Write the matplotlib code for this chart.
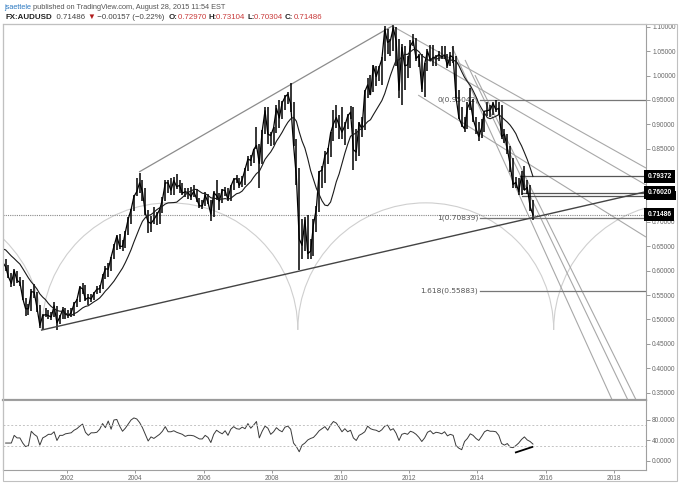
import matplotlib
matplotlib.use('Agg')
import matplotlib.pyplot as plt
from matplotlib.patches import Arc, Rectangle
import numpy as np
import pandas as pd

# monthly bars, Jan 1999 .. Aug 2015 (1999 only feeds the moving average)
high = [
    0.642, 0.640, 0.640, 0.662, 0.670, 0.670, 0.672, 0.652, 0.665, 0.658, 0.650, 0.662,
    0.671, 0.650, 0.623, 0.612, 0.595, 0.604, 0.600, 0.588, 0.580, 0.545, 0.531, 0.562,
    0.572, 0.557, 0.530, 0.512, 0.524, 0.520, 0.515, 0.535, 0.528, 0.510, 0.525, 0.524,
    0.520, 0.523, 0.535, 0.543, 0.569, 0.575, 0.570, 0.552, 0.552, 0.557, 0.568, 0.570,
    0.593, 0.610, 0.615, 0.629, 0.655, 0.674, 0.675, 0.662, 0.682, 0.710, 0.727, 0.755,
    0.790, 0.801, 0.785, 0.770, 0.725, 0.712, 0.730, 0.720, 0.728, 0.752, 0.785, 0.785,
    0.790, 0.792, 0.798, 0.785, 0.780, 0.770, 0.770, 0.772, 0.775, 0.768, 0.750, 0.745,
    0.762, 0.757, 0.745, 0.763, 0.785, 0.760, 0.768, 0.771, 0.770, 0.775, 0.790, 0.797,
    0.790, 0.795, 0.810, 0.835, 0.838, 0.850, 0.895, 0.860, 0.888, 0.935, 0.936, 0.885,
    0.895, 0.940, 0.950, 0.947, 0.960, 0.966, 0.985, 0.945, 0.870, 0.810, 0.705, 0.710,
    0.715, 0.665, 0.705, 0.732, 0.805, 0.815, 0.845, 0.852, 0.885, 0.930, 0.940, 0.920,
    0.935, 0.905, 0.922, 0.938, 0.935, 0.890, 0.905, 0.915, 0.970, 0.995, 1.002, 1.022,
    1.020, 1.020, 1.038, 1.102, 1.095, 1.075, 1.108, 1.100, 1.075, 1.065, 1.060, 1.040,
    1.072, 1.085, 1.078, 1.045, 1.045, 1.025, 1.055, 1.063, 1.062, 1.042, 1.050, 1.060,
    1.060, 1.045, 1.048, 1.060, 1.040, 0.970, 0.935, 0.915, 0.945, 0.975, 0.952, 0.915,
    0.905, 0.910, 0.928, 0.945, 0.940, 0.945, 0.950, 0.945, 0.940, 0.890, 0.880, 0.855,
    0.832, 0.792, 0.790, 0.804, 0.815, 0.785, 0.775, 0.745,
]
low = [
    0.613, 0.622, 0.618, 0.628, 0.640, 0.646, 0.636, 0.628, 0.640, 0.633, 0.628, 0.630,
    0.635, 0.612, 0.600, 0.585, 0.566, 0.568, 0.575, 0.568, 0.540, 0.507, 0.510, 0.518,
    0.545, 0.515, 0.483, 0.478, 0.505, 0.500, 0.498, 0.505, 0.478, 0.490, 0.502, 0.500,
    0.503, 0.506, 0.507, 0.525, 0.535, 0.553, 0.537, 0.530, 0.536, 0.539, 0.553, 0.555,
    0.562, 0.583, 0.587, 0.600, 0.625, 0.643, 0.645, 0.640, 0.646, 0.673, 0.695, 0.723,
    0.753, 0.760, 0.742, 0.715, 0.678, 0.680, 0.695, 0.694, 0.696, 0.718, 0.742, 0.760,
    0.756, 0.756, 0.767, 0.760, 0.755, 0.752, 0.747, 0.745, 0.751, 0.741, 0.728, 0.727,
    0.733, 0.736, 0.702, 0.710, 0.745, 0.725, 0.738, 0.753, 0.743, 0.742, 0.765, 0.780,
    0.770, 0.772, 0.775, 0.805, 0.815, 0.820, 0.850, 0.770, 0.818, 0.880, 0.860, 0.855,
    0.858, 0.883, 0.893, 0.910, 0.930, 0.942, 0.925, 0.855, 0.775, 0.601, 0.625, 0.640,
    0.625, 0.625, 0.630, 0.680, 0.720, 0.770, 0.780, 0.818, 0.833, 0.865, 0.892, 0.870,
    0.870, 0.858, 0.890, 0.912, 0.806, 0.825, 0.835, 0.875, 0.888, 0.955, 0.960, 0.966,
    0.978, 0.988, 0.980, 1.030, 1.045, 1.040, 1.050, 1.020, 0.955, 0.940, 0.970, 0.995,
    1.015, 1.060, 1.030, 1.018, 0.966, 0.957, 1.010, 1.030, 1.020, 1.020, 1.030, 1.035,
    1.035, 1.015, 1.020, 1.025, 0.955, 0.910, 0.895, 0.885, 0.890, 0.930, 0.905, 0.880,
    0.866, 0.872, 0.885, 0.918, 0.915, 0.920, 0.925, 0.920, 0.870, 0.862, 0.840, 0.803,
    0.770, 0.770, 0.756, 0.756, 0.765, 0.758, 0.723, 0.703,
]
close = [
    0.627, 0.628, 0.633, 0.660, 0.650, 0.663, 0.650, 0.642, 0.653, 0.638, 0.637, 0.656,
    0.637, 0.617, 0.608, 0.587, 0.574, 0.600, 0.580, 0.576, 0.543, 0.522, 0.522, 0.557,
    0.556, 0.524, 0.488, 0.508, 0.510, 0.508, 0.505, 0.528, 0.493, 0.505, 0.520, 0.511,
    0.508, 0.514, 0.532, 0.540, 0.566, 0.563, 0.541, 0.545, 0.542, 0.554, 0.562, 0.563,
    0.587, 0.604, 0.603, 0.628, 0.650, 0.671, 0.650, 0.650, 0.679, 0.706, 0.725, 0.752,
    0.762, 0.780, 0.762, 0.718, 0.700, 0.697, 0.705, 0.714, 0.725, 0.745, 0.780, 0.780,
    0.765, 0.785, 0.772, 0.775, 0.759, 0.762, 0.760, 0.752, 0.763, 0.747, 0.733, 0.733,
    0.755, 0.740, 0.716, 0.760, 0.754, 0.743, 0.766, 0.764, 0.746, 0.773, 0.787, 0.789,
    0.775, 0.787, 0.808, 0.829, 0.826, 0.848, 0.857, 0.820, 0.886, 0.928, 0.880, 0.877,
    0.893, 0.933, 0.913, 0.944, 0.956, 0.962, 0.942, 0.858, 0.792, 0.665, 0.652, 0.704,
    0.635, 0.640, 0.695, 0.727, 0.803, 0.806, 0.836, 0.844, 0.882, 0.901, 0.914, 0.898,
    0.884, 0.897, 0.917, 0.925, 0.848, 0.843, 0.903, 0.890, 0.967, 0.981, 0.961, 1.020,
    0.998, 1.016, 1.034, 1.095, 1.068, 1.072, 1.098, 1.071, 0.970, 1.058, 1.020, 1.022,
    1.061, 1.071, 1.035, 1.041, 0.973, 1.024, 1.050, 1.032, 1.037, 1.038, 1.043, 1.038,
    1.042, 1.020, 1.041, 1.037, 0.956, 0.914, 0.899, 0.891, 0.933, 0.946, 0.911, 0.892,
    0.875, 0.893, 0.927, 0.928, 0.930, 0.943, 0.930, 0.933, 0.875, 0.880, 0.850, 0.817,
    0.777, 0.781, 0.762, 0.794, 0.765, 0.771, 0.731, 0.7149,
]

# RSI, one reading per month from Mar 2000 to Aug 2015
rsi = [
    35, 35, 35, 50, 45, 45, 35, 28, 30, 58,
    52, 48, 31, 45, 48, 52, 52, 57, 40, 50, 50, 53,
    54, 55, 60, 63, 68, 72, 56, 50, 55, 55, 56, 62,
    73, 65, 78, 62, 80, 81, 68, 58, 64, 72, 80, 84,
    82, 75, 65, 52, 39, 47, 44, 48, 52, 58, 67, 57,
    57, 59, 56, 54, 52, 48, 50, 50, 49, 46, 43, 43,
    50, 46, 36, 52, 60, 56, 53, 59, 50, 62, 67, 63,
    62, 66, 63, 73, 64, 70, 77, 45, 58, 68, 64, 52,
    57, 65, 60, 57, 66, 68, 62, 35, 28, 18, 31, 35,
    41, 44, 46, 52, 59, 63, 67, 60, 70, 77, 74, 66,
    57, 63, 57, 60, 45, 40, 50, 53, 57, 68, 63, 61,
    60, 57, 61, 68, 70, 60, 63, 54, 40, 52, 54, 52,
    58, 56, 52, 46, 38, 45, 56, 59, 53, 56, 55, 53,
    57, 49, 52, 50, 30, 25, 22, 38, 44, 53, 50, 44,
    40, 48, 57, 60, 58, 58, 57, 50, 34, 31, 34, 27,
    26, 30, 35, 42, 47, 41, 38, 33,
]

last_price = 0.71486
price_ticks = [0.35, 0.40, 0.45, 0.50, 0.55, 0.60, 0.65, 0.70, 0.75, 0.80,
               0.85, 0.90, 0.95, 1.00, 1.05, 1.10]
hidden_ticks = [0.75, 0.80]          # covered by the price-scale marks
rsi_ticks = [0, 40, 80]
year_ticks = [2002, 2004, 2006, 2008, 2010, 2012, 2014, 2016, 2018]

# drawn tools: (x0, y0, x1, y1) in year / price
support_line = (2001.24, 0.478, 2018.93, 0.762)
upper_line = (2004.11, 0.8024, 2011.51, 1.1016)
falling_lines = [
    (2011.51, 1.1016, 2018.93, 0.8105),
    (2012.62, 1.032, 2018.93, 0.7757),
    (2012.27, 0.960, 2018.93, 0.669),
]
steep_lines = [
    (2013.26, 1.0586, 2017.94, 0.335),
    (2013.64, 1.032, 2018.40, 0.335),
    (2013.93, 1.001, 2018.64, 0.335),
]
rays = [(2015.25, 0.79372), (2015.30, 0.76020), (2015.30, 0.7540)]
scale_marks = [0.79372, 0.76020, last_price]
fib_levels = [('0', 0.95042), ('1', 0.70839), ('1.618', 0.55883)]
fib_start = 2014.08
arc_centers = [1997.53, 2005.01, 2012.49, 2019.97]
arc_base = 0.4787
arc_halfwidth = 3.74
arc_height = 0.2604
rsi_div = (2015.10, 16.2, 2015.63, 27.9)

months = pd.date_range('1999-01-01', periods=len(close), freq='MS')
t = months.year + (months.month - 0.5) / 12
ma = pd.Series(close).rolling(12).mean()
rsi_months = pd.date_range('2000-03-01', periods=len(rsi), freq='MS')
t_rsi = rsi_months.year + (rsi_months.month - 0.5) / 12

W, H = 680, 486
fig = plt.figure(figsize=(W / 100, H / 100), dpi=100)
fig.patch.set_facecolor('white')
ax = fig.add_axes([3.3 / W, 1 - 400 / H, 642.7 / W, 376 / H])
ax2 = fig.add_axes([3.3 / W, 1 - 470 / H, 642.7 / W, 70 / H], sharex=ax)

XMIN, XMAX = 2000.14, 2018.93
ax.set_xlim(XMIN, XMAX)
ax.set_ylim(0.33495, 1.10574)
ax2.set_ylim(-17.6, 119)

TICK_FONT = ['Liberation Sans', 'DejaVu Sans']
grey = '#8a8a8a'
for a in (ax, ax2):
    for s in a.spines.values():
        s.set_color('#a0a0a0')
        s.set_linewidth(0.8)
    a.yaxis.tick_right()
    a.tick_params(axis='y', direction='out', length=3, width=0.6, color=grey,
                  labelsize=4.7, labelcolor='#666666', pad=1.5)
ax.spines['bottom'].set_linewidth(1.6)
ax.spines['bottom'].set_color('#9a9a9a')

ax.set_yticks(price_ticks)
ax.set_yticklabels(['' if v in hidden_ticks else f'{v:.5f}' for v in price_ticks],
                   family=TICK_FONT)
ax2.set_yticks(rsi_ticks)
ax2.set_yticklabels([f'{v:.4f}' for v in rsi_ticks], family=TICK_FONT)
ax.tick_params(axis='x', bottom=False, labelbottom=False)
ax2.set_xticks(year_ticks)
ax2.set_xticklabels([str(y) for y in year_ticks], family=TICK_FONT)
ax2.tick_params(axis='x', direction='out', length=2, width=0.6, color=grey,
                labelsize=4.7, labelcolor='#666666', pad=1.5)

# gann arcs
for cx in arc_centers:
    ax.add_patch(Arc((cx, arc_base), 2 * arc_halfwidth, 2 * arc_height,
                     theta1=0, theta2=180, color='#cfcfcf', lw=0.8, zorder=1))

# trend lines
def seg(a, line, color, lw, z=2):
    a.plot([line[0], line[2]], [line[1], line[3]], color=color, lw=lw,
           zorder=z, solid_capstyle='butt')

seg(ax, upper_line, '#8c8c8c', 0.9)
for ln in falling_lines:
    seg(ax, ln, '#a8a8a8', 0.8)
for ln in steep_lines:
    seg(ax, ln, '#a8a8a8', 0.8)
seg(ax, support_line, '#444444', 1.0, z=4)

for x0, lvl in rays:
    ax.plot([x0, XMAX], [lvl, lvl], color='#555555', lw=0.9, zorder=2)

for name, lvl in fib_levels:
    ax.plot([fib_start, XMAX], [lvl, lvl], color='#777777', lw=0.9, zorder=2)
    ax.text(fib_start - 0.05, lvl, f'{name}({lvl:.5f})', ha='right', va='center',
            fontsize=5.4, color='#555555', family=['DejaVu Sans'])

ax.axhline(last_price, color='#888888', lw=0.8, ls=(0, (1, 1)), zorder=2)

# price bars and 52-week average
ax.vlines(t, low, high, color='black', lw=1.1, zorder=3)
ax.plot(t, close, color='black', lw=0.9, zorder=3)
ax.plot(t, ma, color='#1a1a1a', lw=0.8, zorder=3)

# price scale marks
ytr = ax.get_yaxis_transform()
ax.add_patch(Rectangle((1.0, rays[2][1] - 0.0095), 0.047, 0.019, transform=ytr,
                       fc='black', ec='none', clip_on=False, zorder=5))
for lvl in scale_marks:
    ax.text(1.002, lvl, f'{lvl:.5f}', transform=ytr,
            ha='left', va='center', fontsize=4.8, color='white', fontweight='bold',
            family=TICK_FONT, clip_on=False, zorder=6,
            bbox=dict(boxstyle='square,pad=0.45', fc='black', ec='none'))

# rsi pane
ax2.plot(t_rsi, rsi, color='#3a3a3a', lw=0.7)
for lvl in (70, 30):
    ax2.axhline(lvl, color='#c4c4c4', lw=0.7, ls=(0, (2, 2)))
seg(ax2, rsi_div, 'black', 1.3)

# outer frame
fig.add_artist(Rectangle((3 / W, 1 - 481 / H), 674 / W, 457 / H,
                         transform=fig.transFigure, fill=False,
                         ec='#c0c0c0', lw=0.8))

# header
renderer = fig.canvas.get_renderer()

def write_runs(x_px, y_px, runs, size):
    x = x_px / W
    for txt, color, weight in runs:
        tx = fig.text(x, 1 - y_px / H, txt, color=color, fontsize=size,
                      fontweight=weight, va='baseline',
                      family=['Liberation Sans', 'DejaVu Sans'])
        x += tx.get_window_extent(renderer=renderer).width / W

write_runs(4, 8.8, [
    ('jsaettele', '#2f7bc2', 'normal'),
    (' published on TradingView.com, August 28, 2015 11:54 EST', '#555555', 'normal'),
], 5.35)
red = '#c83a3a'
write_runs(5, 19.3, [
    ('FX:AUDUSD', '#222222', 'bold'),
    ('  0.71486 ', '#444444', 'normal'),
    ('\u25bc', '#b01c1c', 'normal'),
    (' \u22120.00157 (\u22120.22%)  ', '#444444', 'normal'),
    ('O:', '#222222', 'bold'), ('0.72970 ', red, 'normal'),
    ('H:', '#222222', 'bold'), ('0.73104 ', red, 'normal'),
    ('L:', '#222222', 'bold'), ('0.70304 ', red, 'normal'),
    ('C:', '#222222', 'bold'), ('0.71486', red, 'normal'),
], 5.7)

fig.savefig('out.png', dpi=100, facecolor='white')
